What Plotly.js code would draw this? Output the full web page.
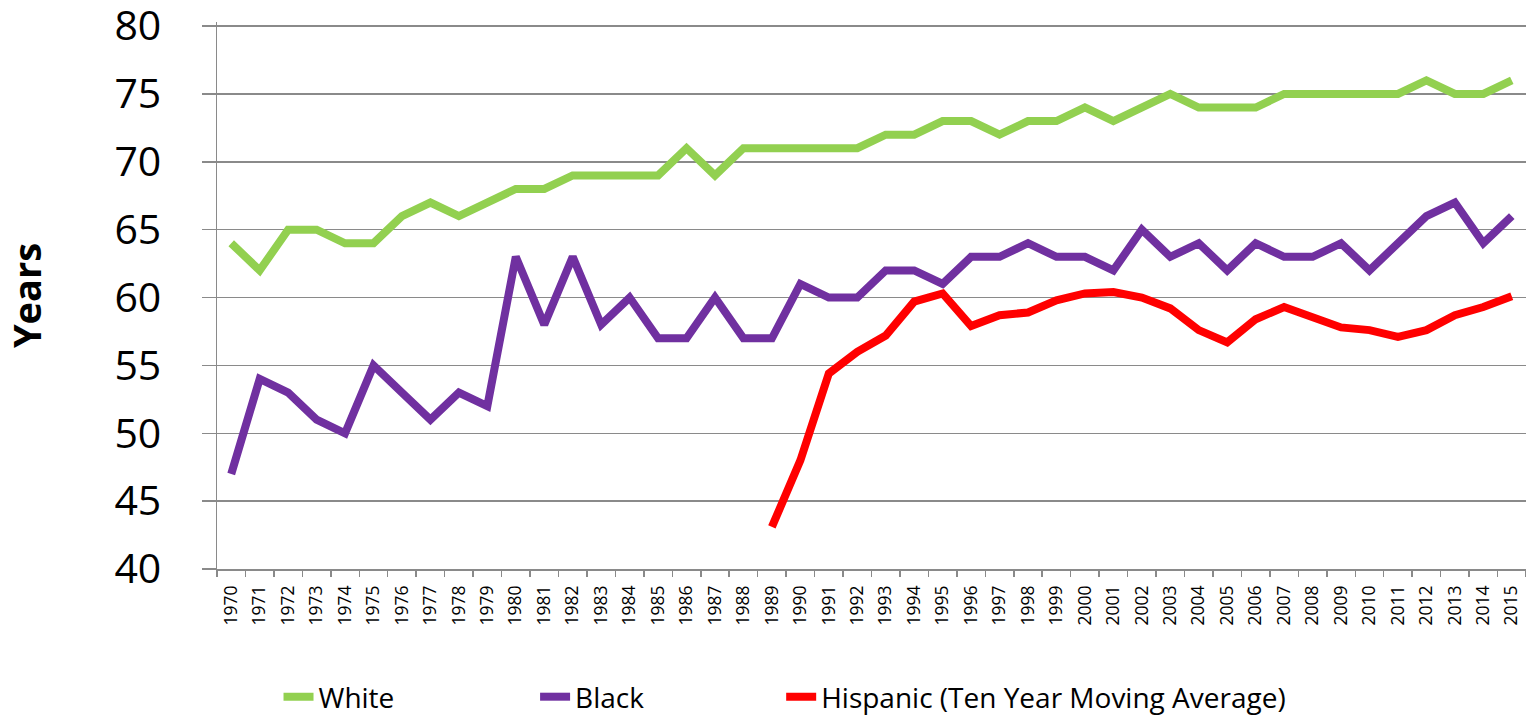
<!DOCTYPE html>
<html>
<head>
<meta charset="utf-8">
<script src="https://cdn.plot.ly/plotly-3.0.1.min.js"></script>
<style>
  html, body { margin: 0; padding: 0; background: #ffffff; }
  #chart { width: 1526px; height: 718px; }
</style>
</head>
<body>
<div id="chart"></div>
<script>
const years = [
  "1970","1971","1972","1973","1974","1975","1976","1977","1978","1979",
  "1980","1981","1982","1983","1984","1985","1986","1987","1988","1989",
  "1990","1991","1992","1993","1994","1995","1996","1997","1998","1999",
  "2000","2001","2002","2003","2004","2005","2006","2007","2008","2009",
  "2010","2011","2012","2013","2014","2015"
];

const white = [
  64, 62, 65, 65, 64, 64, 66, 67, 66, 67,
  68, 68, 69, 69, 69, 69, 71, 69, 71, 71,
  71, 71, 71, 72, 72, 73, 73, 72, 73, 73,
  74, 73, 74, 75, 74, 74, 74, 75, 75, 75,
  75, 75, 76, 75, 75, 76
];

const black = [
  47, 54, 53, 51, 50, 55, 53, 51, 53, 52,
  63, 58, 63, 58, 60, 57, 57, 60, 57, 57,
  61, 60, 60, 62, 62, 61, 63, 63, 64, 63,
  63, 62, 65, 63, 64, 62, 64, 63, 63, 64,
  62, 64, 66, 67, 64, 66
];

const hispanic = [
  null, null, null, null, null, null, null, null, null, null,
  null, null, null, null, null, null, null, null, null, 43.1,
  48.0, 54.4, 56.0, 57.2, 59.7, 60.3, 57.9, 58.7, 58.9, 59.8,
  60.3, 60.4, 60.0, 59.2, 57.6, 56.7, 58.4, 59.3, 58.6, 57.8,
  57.6, 57.1, 57.6, 58.7, 59.3, 60.1
];

const yTicks = [40, 45, 50, 55, 60, 65, 70, 75, 80];

const seriesNames = ["White", "Black", "Hispanic (Ten Year Moving Average)"];
const seriesColors = ["#92d050", "#7030a0", "#ff0000"];

const FONT = "'Open Sans', 'Noto Sans', sans-serif";
const GRID = "#8a8a8a";

const traces = [
  {
    x: years, y: white, type: "scatter", mode: "lines",
    name: seriesNames[0], legend: "legend",
    line: { color: seriesColors[0], width: 8 }
  },
  {
    x: years, y: black, type: "scatter", mode: "lines",
    name: seriesNames[1], legend: "legend2",
    line: { color: seriesColors[1], width: 8 }
  },
  {
    x: years, y: hispanic, type: "scatter", mode: "lines",
    name: seriesNames[2], legend: "legend3",
    line: { color: seriesColors[2], width: 8 },
    connectgaps: false
  }
];

const legendCommon = {
  orientation: "h",
  yanchor: "middle",
  xanchor: "left",
  y: -0.234,
  bgcolor: "rgba(0,0,0,0)",
  font: { family: FONT, size: 28, color: "#000000" },
  itemsizing: "trace"
};

const layout = {
  width: 1526,
  height: 718,
  paper_bgcolor: "#ffffff",
  plot_bgcolor: "#ffffff",
  margin: { l: 217, r: 0, t: 22, b: 149, pad: 0, autoexpand: false },
  showlegend: true,
  legend: Object.assign({}, legendCommon, { x: 0.047 }),
  legend2: Object.assign({}, legendCommon, { x: 0.243 }),
  legend3: Object.assign({}, legendCommon, { x: 0.431 }),
  xaxis: {
    type: "category",
    categoryorder: "array",
    categoryarray: years,
    range: [-0.5, years.length - 0.5],
    showgrid: false,
    zeroline: false,
    showline: true,
    linecolor: GRID,
    linewidth: 1.5,
    ticks: "outside",
    tickson: "boundaries",
    ticklen: 6,
    tickcolor: GRID,
    tickwidth: 1.5,
    tickangle: -90,
    ticklabelstandoff: 8,
    ticklabeloverflow: "allow",
    tickfont: { family: FONT, size: 17.5, color: "#000000" },
    automargin: false
  },
  yaxis: {
    range: [40, 80.3],
    tickmode: "array",
    tickvals: yTicks,
    ticktext: yTicks.map(String),
    showgrid: true,
    gridcolor: GRID,
    gridwidth: 1.5,
    zeroline: false,
    showline: true,
    linecolor: GRID,
    linewidth: 1.5,
    ticks: "outside",
    ticklen: 14,
    tickcolor: GRID,
    tickwidth: 1.5,
    ticklabelstandoff: 32,
    ticklabeloverflow: "allow",
    tickfont: { family: FONT, size: 41, color: "#000000" },
    title: {
      text: "<b>Years</b>",
      font: { family: FONT, size: 38, color: "#000000" },
      standoff: 70
    },
    automargin: false
  },
  hovermode: false
};

Plotly.newPlot("chart", traces, layout, { displayModeBar: false, staticPlot: true });
</script>
</body>
</html>
